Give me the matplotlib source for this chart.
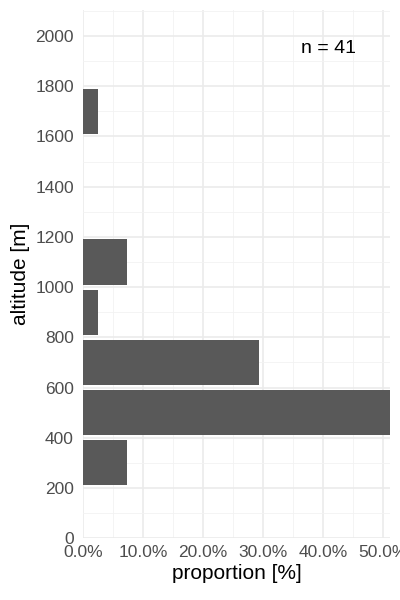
import matplotlib.pyplot as plt
import numpy as np
from matplotlib.ticker import FuncFormatter, MultipleLocator

plt.rcParams['font.family'] = ['Liberation Sans', 'DejaVu Sans']

# histogram of altitudes, 200 m bins (lower edge), share of 41 sites
bin_low = [200, 400, 600, 800, 1000, 1600]
share = [3 / 41, 21 / 41, 12 / 41, 1 / 41, 3 / 41, 1 / 41]
n_total = 41

fig = plt.figure(figsize=(4, 6), dpi=100)
ax = fig.add_axes([0.2075, 0.103, 0.768, 0.88])

# bars are 90% of the bin width
ax.barh(np.array(bin_low) + 100, share, height=180, color='#595959', zorder=3)

ax.set_xlim(0, max(share))
ax.set_ylim(0, 2103)

ax.xaxis.set_major_locator(MultipleLocator(0.1))
ax.xaxis.set_minor_locator(MultipleLocator(0.05))
ax.yaxis.set_major_locator(MultipleLocator(200))
ax.yaxis.set_minor_locator(MultipleLocator(100))
ax.xaxis.set_major_formatter(FuncFormatter(lambda v, p: f'{v * 100:.1f}%'))

ax.grid(which='major', color='#EBEBEB', linewidth=1.2, zorder=0)
ax.grid(which='minor', color='#F2F2F2', linewidth=0.6, zorder=0)
for s in ax.spines.values():
    s.set_visible(False)
ax.tick_params(which='both', length=0, labelsize=12.5, labelcolor='#4D4D4D')
ax.tick_params(axis='x', pad=5)
ax.tick_params(axis='y', pad=6.5)

ax.set_xlabel('proportion [%]', fontsize=15, labelpad=3)
ax.set_ylabel('altitude [m]', fontsize=15, labelpad=4)

ax.text(0.41, 1950, f'n = {n_total}', fontsize=14, ha='center', va='center', zorder=4)

fig.savefig('out.png', dpi=100)
